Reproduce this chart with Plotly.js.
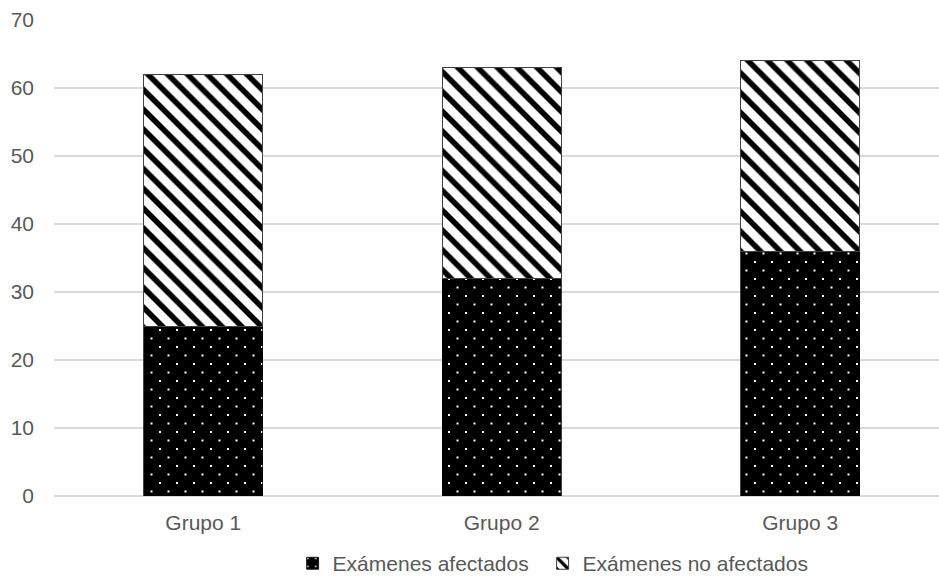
<!DOCTYPE html>
<html>
<head>
<meta charset="utf-8">
<script src="https://cdn.plot.ly/plotly-3.0.1.min.js"></script>
<style>html,body{margin:0;padding:0;background:#fff;}#chart{width:939px;height:576px;}</style>
</head>
<body>
<div id="chart"></div>
<script>
const categories = ["Grupo 1", "Grupo 2", "Grupo 3"];
const afectados = [25, 32, 36];
const noAfectados = [37, 31, 28];
const seriesNames = ["Exámenes afectados", "Exámenes no afectados"];
const yTicks = [0, 10, 20, 30, 40, 50, 60, 70];

const traces = [
  {
    type: "bar", x: categories, y: afectados, name: seriesNames[0], width: 0.4, legend: "legend",
    marker: {
      color: "#000000",
      line: {color: "#000000", width: 0.75},
      pattern: {path: "M3,3h2v2h-2zM11.5,11.5h2v2h-2z", fgcolor: "#ffffff", bgcolor: "#000000", size: 17, fillmode: "replace"}
    },
    hoverinfo: "skip"
  },
  {
    type: "bar", x: categories, y: noAfectados, name: seriesNames[1], width: 0.4, legend: "legend2",
    marker: {
      color: "#000000",
      line: {color: "#404040", width: 1},
      pattern: {shape: "\\", fgcolor: "#000000", bgcolor: "#ffffff", size: 14, solidity: 0.4, fillmode: "replace"}
    },
    hoverinfo: "skip"
  }
];

const legendBase = {
  orientation: "h", xanchor: "left", yref: "container", y: 0.0215, yanchor: "middle",
  font: {size: 21, color: "#595959"}, itemwidth: 30, bgcolor: "rgba(0,0,0,0)"
};

const layout = {
  width: 939, height: 576,
  barmode: "stack",
  paper_bgcolor: "#ffffff", plot_bgcolor: "#ffffff",
  margin: {l: 54, r: 0, t: 20, b: 80, autoexpand: false},
  font: {family: "Liberation Sans, Arial, sans-serif", size: 21, color: "#595959"},
  xaxis: {
    type: "category", range: [-0.5, 2.465], automargin: false,
    showgrid: false, showline: false, zeroline: false,
    ticks: "", ticklabelstandoff: 12, tickfont: {size: 21, color: "#595959"}
  },
  yaxis: {
    range: [0, 70], tickvals: yTicks, ticktext: yTicks.map(String), automargin: false,
    showgrid: true, gridcolor: "#d9d9d9", gridwidth: 1.3,
    zeroline: true, zerolinecolor: "#d9d9d9", zerolinewidth: 1.3,
    showline: false, ticks: "", ticklabelstandoff: 19,
    tickfont: {size: 21, color: "#595959"}
  },
  legend: Object.assign({}, legendBase, {x: 0.2696}),
  legend2: Object.assign({}, legendBase, {x: 0.5521}),
  showlegend: true
};

Plotly.newPlot("chart", traces, layout, {staticPlot: true, displayModeBar: false});
</script>
</body>
</html>
